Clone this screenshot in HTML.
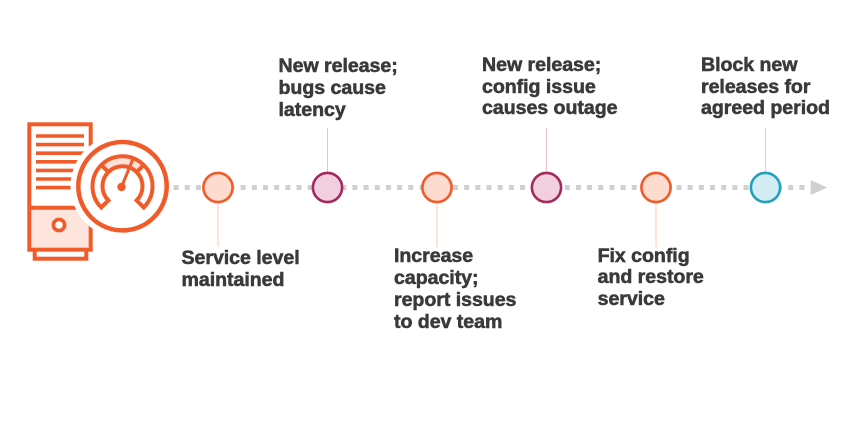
<!DOCTYPE html>
<html>
<head>
<meta charset="utf-8">
<style>
  html, body { margin: 0; padding: 0; background: #ffffff; }
  #wrap { position: relative; width: 852px; height: 440px; overflow: hidden; background: #ffffff; }
  svg { position: absolute; left: 0; top: 0; }
  .t {
    position: absolute;
    font-family: "Liberation Sans", Arial, sans-serif;
    font-weight: bold;
    font-size: 19.6px;
    line-height: 21.7px;
    color: #3a3a3a;
    white-space: nowrap;
    letter-spacing: -0.05px;
    -webkit-text-stroke: 0.55px #3a3a3a;
  }
</style>
</head>
<body>
<div id="wrap">
<svg width="852" height="440" viewBox="0 0 852 440" xmlns="http://www.w3.org/2000/svg">
  <!-- Tower icon -->
  <rect x="34.7" y="246" width="51.6" height="12.7" fill="#ffffff" stroke="#f15a29" stroke-width="4"/>
  <rect x="29.3" y="208" width="61.4" height="41.7" fill="#fde4dc"/>
  <rect x="29.3" y="124.3" width="61.4" height="125.4" fill="none" stroke="#f15a29" stroke-width="4"/>
  <line x1="29.3" y1="207.7" x2="90.7" y2="207.7" stroke="#f15a29" stroke-width="4"/>
  <g stroke="#f15a29" stroke-width="3.6">
    <line x1="36" y1="136" x2="84" y2="136"/>
    <line x1="36" y1="144.6" x2="84" y2="144.6"/>
    <line x1="36" y1="153.2" x2="84" y2="153.2"/>
    <line x1="36" y1="161.8" x2="84" y2="161.8"/>
    <line x1="36" y1="170.4" x2="84" y2="170.4"/>
    <line x1="36" y1="179" x2="84" y2="179"/>
    <line x1="36" y1="187.6" x2="84" y2="187.6"/>
  </g>
  <circle cx="59" cy="225" r="5.6" fill="#ffffff" stroke="#f15a29" stroke-width="3.6"/>

  <!-- Gauge -->
  <circle cx="122.5" cy="186.2" r="52" fill="#ffffff"/>
  <circle cx="122.5" cy="186.2" r="44.2" fill="#ffffff" stroke="#f15a29" stroke-width="4.5"/>
  <!-- pink top segment -->
  <path d="M101.29 164.99 A30 30 0 0 1 143.71 164.99 L136.64 172.06 A20 20 0 0 0 108.36 172.06 Z" fill="#fde0d6"/>
  <!-- band outline -->
  <path d="M101.29 207.41 A30 30 0 1 1 143.71 207.41 L136.64 200.34 A20 20 0 1 0 108.36 200.34 Z" fill="none" stroke="#f15a29" stroke-width="4" stroke-linejoin="miter"/>
  <line x1="101.29" y1="164.99" x2="108.36" y2="172.06" stroke="#f15a29" stroke-width="4"/>
  <line x1="143.71" y1="164.99" x2="136.64" y2="172.06" stroke="#f15a29" stroke-width="4"/>
  <!-- needle -->
  <line x1="121.5" y1="187" x2="132.3" y2="160.5" stroke="#f15a29" stroke-width="3" stroke-linecap="round"/>
  <circle cx="121.5" cy="187" r="4.2" fill="#f15a29"/>

  <!-- dotted timeline -->
  <line x1="173.6" y1="187.5" x2="806" y2="187.5" stroke="#d0d0d0" stroke-width="5" stroke-dasharray="5 6.175"/>
  <polygon points="810.7,180 827.3,187.5 810.7,195" fill="#d0d0d0"/>

  <!-- connectors -->
  <line x1="218" y1="203" x2="218" y2="247" stroke="#f9c9b7" stroke-width="1"/>
  <line x1="327.5" y1="128" x2="327.5" y2="172" stroke="#eebfd3" stroke-width="1"/>
  <line x1="437" y1="203" x2="437" y2="247" stroke="#f9c9b7" stroke-width="1"/>
  <line x1="546.5" y1="128" x2="546.5" y2="172" stroke="#eebfd3" stroke-width="1"/>
  <line x1="656" y1="203" x2="656" y2="247" stroke="#f9c9b7" stroke-width="1"/>
  <line x1="765.5" y1="128" x2="765.5" y2="172" stroke="#b9e0eb" stroke-width="1"/>

  <!-- milestone circles -->
  <circle cx="218" cy="187.5" r="14.6" fill="#fddccf" stroke="#f15a29" stroke-width="2.6"/>
  <circle cx="327.5" cy="187.5" r="14.6" fill="#f2cfdf" stroke="#a32a5c" stroke-width="2.6"/>
  <circle cx="437" cy="187.5" r="14.6" fill="#fddccf" stroke="#f15a29" stroke-width="2.6"/>
  <circle cx="546.5" cy="187.5" r="14.6" fill="#f2cfdf" stroke="#a32a5c" stroke-width="2.6"/>
  <circle cx="656" cy="187.5" r="14.6" fill="#fddccf" stroke="#f15a29" stroke-width="2.6"/>
  <circle cx="765.5" cy="187.5" r="14.6" fill="#d3edf4" stroke="#23a0bf" stroke-width="2.6"/>
</svg>

<div class="t" style="left:181.5px; top:248.4px;">Service level<br>maintained</div>
<div class="t" style="left:278.5px; top:56.1px;">New release;<br>bugs cause<br>latency</div>
<div class="t" style="left:394px; top:246.4px;">Increase<br>capacity;<br>report issues<br>to dev team</div>
<div class="t" style="left:482px; top:55px;">New release;<br>config issue<br>causes outage</div>
<div class="t" style="left:597.6px; top:245.7px;">Fix config<br>and restore<br>service</div>
<div class="t" style="left:701px; top:55px;">Block new<br>releases for<br>agreed period</div>
</div>
</body>
</html>
